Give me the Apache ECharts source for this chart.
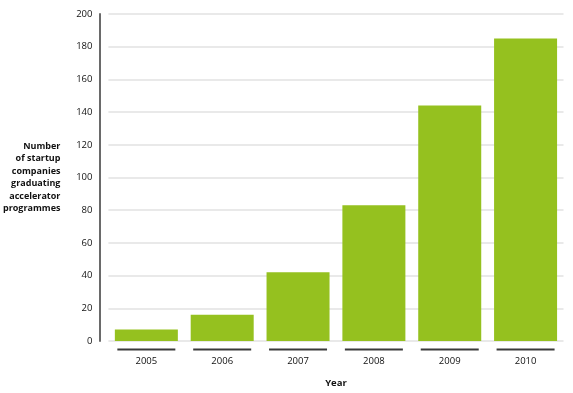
<!DOCTYPE html>
<html>
<head>
<meta charset="utf-8">
<script src="https://cdn.jsdelivr.net/npm/echarts@6/dist/echarts.min.js"></script>
<style>
  html, body { margin: 0; padding: 0; background: #fff; }
  #chart { width: 573px; height: 393px; }
</style>
</head>
<body>
<div id="chart"></div>
<script>
const categories = ['2005', '2006', '2007', '2008', '2009', '2010'];
const startups = [7, 16, 42, 83, 144, 185];
const yTicks = [0, 20, 40, 60, 80, 100, 120, 140, 160, 180, 200];
const yAxisTitle = 'Number\nof startup\ncompanies\ngraduating\naccelerator\nprogrammes';
const xAxisTitle = 'Year';

const FONT = '"Open Sans", "Liberation Sans", sans-serif';
const chart = echarts.init(document.getElementById('chart'), null, { renderer: 'canvas' });

chart.setOption({
  animation: false,
  backgroundColor: '#ffffff',
  grid: { left: 106.5, right: 9.5, top: 14, bottom: 48, containLabel: false },
  xAxis: {
    type: 'category',
    data: categories,
    axisLine: { show: false },
    axisTick: { show: false },
    name: xAxisTitle,
    nameLocation: 'middle',
    nameGap: 37,
    nameTextStyle: { fontFamily: FONT, fontWeight: 'bold', fontSize: 9.5, color: '#111' },
    axisLabel: {
      margin: 7.5,
      formatter: v => '{u| }\n{y|' + v + '}',
      rich: {
        u: { width: 58, height: 2, lineHeight: 2, backgroundColor: '#3a3a3a', fontSize: 1 },
        y: { fontFamily: FONT, fontSize: 9.5, color: '#111', lineHeight: 21 }
      }
    }
  },
  yAxis: {
    type: 'value',
    min: yTicks[0],
    max: yTicks[yTicks.length - 1],
    interval: yTicks[1] - yTicks[0],
    offset: 9,
    axisLine: { show: true, lineStyle: { color: '#6a6a6a', width: 2 } },
    axisTick: { show: false },
    axisLabel: { margin: 7, fontFamily: FONT, fontSize: 9.5, color: '#111' },
    splitLine: { show: true, lineStyle: { color: '#e2e2e2', width: 1.5 } },
    name: yAxisTitle,
    nameLocation: 'middle',
    nameRotate: 0,
    nameGap: 39,
    nameTextStyle: {
      fontFamily: FONT, fontWeight: 'bold', fontSize: 9, color: '#111',
      align: 'right', verticalAlign: 'middle', lineHeight: 12.4
    }
  },
  series: [{
    type: 'bar',
    data: startups,
    barWidth: 63,
    itemStyle: { color: '#95c11f' }
  }]
});
</script>
</body>
</html>
